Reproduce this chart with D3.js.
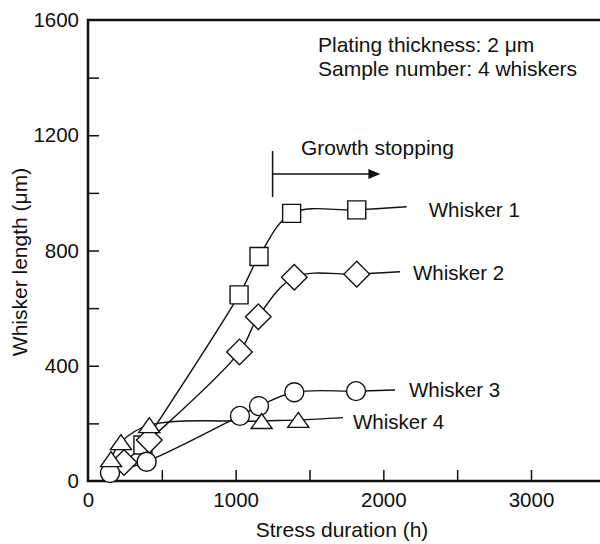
<!DOCTYPE html>
<html>
<head>
<meta charset="utf-8">
<script src="https://cdn.jsdelivr.net/npm/d3@7"></script>
<style>
  html, body { margin: 0; padding: 0; background: #fff; }
  svg text { font-family: "Liberation Sans", Arial, Helvetica, sans-serif; fill: #111; }
</style>
</head>
<body>
<div id="chart"></div>
<script>
// data ---------------------------------------------------------------------------------------
const seriesNames = ['Whisker 1', 'Whisker 2', 'Whisker 3', 'Whisker 4'];
const w1Hours = [372, 1023, 1158, 1379, 1820];
const w1Length = [125, 646, 779, 929, 941];
const w1Tail = [2158, 952];
const w2Hours = [244, 415, 1026, 1153, 1397, 1820];
const w2Length = [64, 142, 448, 570, 707, 718];
const w2Tail = [2113, 726];
const w3Hours = [149, 397, 1029, 1158, 1397, 1815];
const w3Length = [28, 67, 226, 260, 308, 312];
const w3Tail = [2079, 316];
const w4Hours = [156, 223, 415, 1176, 1424];
const w4Length = [76, 135, 194, 208, 212];
const w4Tail = [1727, 220];
const xTicks = [0, 500, 1000, 1500, 2000, 2500, 3000];
const xTickLabels = ['0', '', '1000', '', '2000', '', '3000'];
const yTicks = [0, 200, 400, 600, 800, 1000, 1200, 1400, 1600];
const yTickLabels = ['0', '', '400', '', '800', '', '1200', '', '1600'];
const noteLines = ['Plating thickness: 2 \u03bcm', 'Sample number: 4 whiskers'];
const stopLabel = 'Growth stopping';
const stopHour = 1250;
const stopArrowEnd = 1980;
// SVG ------------------------------------------------------------------------------------------
const width = 600;
const height = 544;
const margin = { top: 20, left: 88, bottom: 481 };
const svg = d3.select('#chart').append('svg')
  .attr('width', width)
  .attr('height', height);
const xScale = d3.scaleLinear().domain([0, 3000]).range([margin.left, 531]);
const yScale = d3.scaleLinear().domain([0, 1600]).range([margin.bottom, margin.top]);
// axes -----------------------------------------------------------------------------------------
const xAxis = d3.axisBottom(xScale).tickValues(xTicks).tickSizeInner(-11).tickSizeOuter(0)
  .tickPadding(14).tickFormat((d, i) => xTickLabels[i]);
const gx = svg.append('g').attr('transform', 'translate(0,' + margin.bottom + ')').call(xAxis);
gx.select('.domain').remove();
gx.selectAll('.tick line').attr('stroke', '#111').attr('stroke-width', 1.5);
gx.selectAll('.tick').filter(d => d === 0).select('line').remove();
gx.selectAll('.tick text').attr('font-size', '20.5px').attr('fill', '#111').attr('dy', '0.71em').attr('y', 11);
const yAxis = d3.axisLeft(yScale).tickValues(yTicks).tickSizeInner(-11).tickSizeOuter(0)
  .tickPadding(9).tickFormat((d, i) => yTickLabels[i]);
const gy = svg.append('g').attr('transform', 'translate(' + margin.left + ',0)').call(yAxis);
gy.select('.domain').remove();
gy.selectAll('.tick line').attr('stroke', '#111').attr('stroke-width', 1.5);
gy.selectAll('.tick').filter(d => d === 0 || d === 1600).select('line').remove();
gy.selectAll('.tick text').attr('font-size', '20.5px').attr('fill', '#111').attr('x', -9);
// frame
svg.append('path')
  .attr('d', `M${width},${margin.top}H${margin.left}V${margin.bottom}H${width}`)
  .attr('fill', 'none')
  .attr('stroke', '#111')
  .attr('stroke-width', 2.5);
// axis titles
svg.append('text')
  .attr('x', 342).attr('y', 537)
  .attr('text-anchor', 'middle')
  .attr('font-size', '21px')
  .text('Stress duration (h)');
svg.append('text')
  .attr('transform', 'translate(27,262) rotate(-90)')
  .attr('text-anchor', 'middle')
  .attr('font-size', '21px')
  .text('Whisker length (\u03bcm)');
// series ----------------------------------------------------------------------------------------
const series = [
  { name: seriesNames[0], x: w1Hours, y: w1Length, tail: w1Tail, shape: 'square', dx: 22, dy: 10 },
  { name: seriesNames[1], x: w2Hours, y: w2Length, tail: w2Tail, shape: 'diamond', dx: 13, dy: 8 },
  { name: seriesNames[2], x: w3Hours, y: w3Length, tail: w3Tail, shape: 'circle', dx: 14, dy: 7 },
  { name: seriesNames[3], x: w4Hours, y: w4Length, tail: w4Tail, shape: 'triangle', dx: 10, dy: 11 }
];
const line = d3.line()
  .x(d => xScale(d[0]))
  .y(d => yScale(d[1]))
  .curve(d3.curveCatmullRom.alpha(0.5));
const shapePath = {
  square: 'M-9,-9H9V9H-9Z',
  diamond: 'M0,-12.8L12.8,0L0,12.8L-12.8,0Z',
  triangle: 'M0,-7.5L10.5,7.5H-10.5Z'
};
series.forEach(s => {
  const pts = s.x.map((v, i) => [v, s.y[i]]).concat([s.tail]);
  svg.append('path')
    .attr('d', line(pts))
    .attr('fill', 'none')
    .attr('stroke', '#111')
    .attr('stroke-width', 1.4);
});
series.forEach(s => {
  const g = svg.append('g');
  const marks = s.x.map((v, i) => [v, s.y[i]]);
  if (s.shape === 'circle') {
    g.selectAll('circle').data(marks).enter().append('circle')
      .attr('cx', d => xScale(d[0]))
      .attr('cy', d => yScale(d[1]))
      .attr('r', 9.5)
      .attr('fill', '#fff')
      .attr('stroke', '#111')
      .attr('stroke-width', 1.4);
  } else {
    g.selectAll('path').data(marks).enter().append('path')
      .attr('d', shapePath[s.shape])
      .attr('transform', d => 'translate(' + xScale(d[0]) + ',' + yScale(d[1]) + ')')
      .attr('fill', '#fff')
      .attr('stroke', '#111')
      .attr('stroke-width', 1.4);
  }
  svg.append('text')
    .attr('x', xScale(s.tail[0]) + s.dx)
    .attr('y', yScale(s.tail[1]) + s.dy)
    .attr('font-size', '20.5px')
    .text(s.name);
});
// notes ----------------------------------------------------------------------------------------
svg.append('text')
  .attr('x', 318).attr('y', 52)
  .attr('font-size', '21px')
  .selectAll('tspan').data(noteLines).enter().append('tspan')
  .attr('x', 318)
  .attr('dy', (d, i) => i === 0 ? 0 : 23.5)
  .text(d => d);
// growth stopping arrow
const arrowY = 174;
svg.append('line')
  .attr('x1', xScale(stopHour)).attr('x2', xScale(stopHour))
  .attr('y1', 151).attr('y2', 197)
  .attr('stroke', '#111').attr('stroke-width', 1.5);
svg.append('line')
  .attr('x1', xScale(stopHour)).attr('x2', xScale(stopArrowEnd) - 10)
  .attr('y1', arrowY).attr('y2', arrowY)
  .attr('stroke', '#111').attr('stroke-width', 1.5);
svg.append('path')
  .attr('d', `M${xScale(stopArrowEnd)},${arrowY}l-12,-5v10Z`)
  .attr('fill', '#111');
svg.append('text')
  .attr('x', 301).attr('y', 155)
  .attr('font-size', '21px')
  .text(stopLabel);
</script>
</body>
</html>
